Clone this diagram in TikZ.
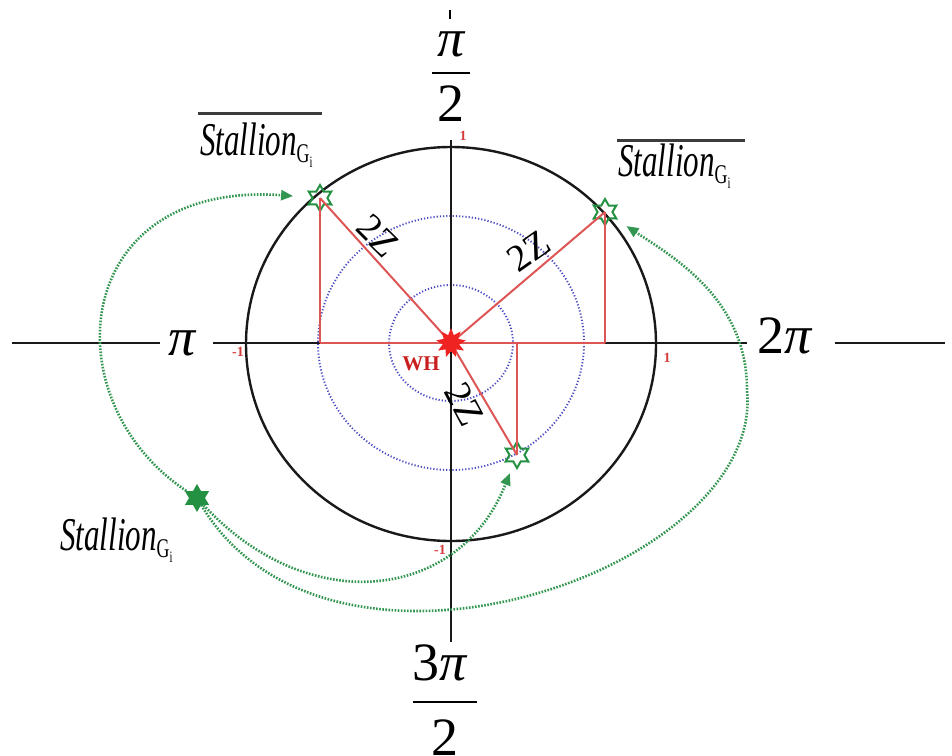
\documentclass[tikz,border=0pt]{standalone}
\usepackage{fontspec}
\setmainfont{Liberation Serif}
\usetikzlibrary{shapes.geometric,arrows.meta}
\definecolor{redl}{RGB}{222,85,85}
\definecolor{redstar}{RGB}{240,35,35}
\definecolor{grn}{RGB}{35,145,65}
\definecolor{grnd}{RGB}{50,150,80}
\definecolor{blu}{RGB}{75,75,195}
\definecolor{axc}{RGB}{25,25,25}
\definecolor{whc}{RGB}{200,30,30}
\definecolor{tickc}{RGB}{215,60,60}
\definecolor{barc}{RGB}{60,60,60}
\newcommand{\stal}{\scalebox{0.66}[1]{\fontsize{47}{47}\selectfont\itshape Stallion\upshape\raisebox{-7pt}{\fontsize{27}{27}\selectfont G\raisebox{-5pt}{\fontsize{16}{16}\selectfont i}}}}
\begin{document}
\begin{tikzpicture}[x=1pt,y=-1pt,
  axisline/.style={draw=axc,line width=2.4pt},
  redline/.style={draw=redl,line width=2pt},
  bdot/.style={draw=blu,line width=1.9pt,dash pattern=on 1.2pt off 2pt},
  garrow/.style={draw=grnd,line width=2.6pt,dash pattern=on 1.6pt off 1.5pt,-{Triangle[length=12pt,width=10pt]}},
  hexo/.style={star,star points=6,star point ratio=1.75,minimum size=26pt,inner sep=0pt,draw=grn,line width=2pt},
  hexf/.style={star,star points=6,star point ratio=1.75,minimum size=28pt,inner sep=0pt,fill=grn},
  rstar/.style={star,star points=9,star point ratio=1.8,minimum size=30pt,inner sep=0pt,fill=redstar},
  bigf/.style={font=\fontsize{54}{54}\selectfont,inner sep=0pt},
  zlab/.style={font=\fontsize{38}{38}\selectfont,inner sep=0pt},
  ticklab/.style={font=\fontsize{14}{14}\selectfont\bfseries,text=tickc,inner sep=0pt},
  stlab/.style={inner sep=0pt,anchor=base west}
]
\useasboundingbox (0,0) rectangle (952,755);

% dotted blue circles
\draw[bdot] (451,343) ellipse [x radius=62, y radius=58];
\draw[bdot] (451,343) ellipse [x radius=133, y radius=127];
% main circle
\draw[axisline] (451,344) ellipse [x radius=205, y radius=197];

% axis labels
\node[bigf] (piL) at (182,343) {\itshape π};
\node[bigf] (twopi) at (785,336) {2\itshape π};
\node[bigf] (pihalf) at (451,44) {\itshape π};
\node[bigf] (twoA) at (451,104) {2};
\node[bigf] (threepi) at (440,663) {3\itshape π};
\node[bigf] (twoB) at (445,738) {2};
\draw[line width=2.5pt] (432,73) -- (470,73);
\draw[line width=2.5pt] (413,702) -- (477,702);
\draw[line width=2pt] (450,10) -- (450,19);

% axes
\coordinate (axL) at (12,343);
\coordinate (axR) at (945,343);
\coordinate (axT) at (451,140);
\coordinate (axB) at (451,642);
\draw[axisline] (axL) -- (160,343);
\draw[axisline] (213,343) -- (747,343);
\draw[axisline] (835,343) -- (axR);
\draw[axisline] (axT) -- (axB);

% stars
\node[hexo] (sUL) at (320,198) {};
\node[hexo] (sUR) at (605,212) {};
\node[hexo] (sLo) at (517,455) {};
\node[hexf] (sL) at (197,498) {};

% red construction lines
\coordinate (ctr) at (451,343);
\draw[redline] (sUL.center |- ctr) -- (sUR.center |- ctr);
\draw[redline] (ctr) -- (sUL.center);
\draw[redline] (ctr) -- (sUR.center);
\draw[redline] (ctr) -- (sLo.center);
\draw[redline] (sUL.center) -- (sUL.center |- ctr);
\draw[redline] (sUR.center) -- (sUR.center |- ctr);
\draw[redline] (sLo.center) -- (sLo.center |- ctr);

\node[rstar] (wh) at (ctr) {};
\node[font=\fontsize{21}{21}\selectfont\bfseries,text=whc,inner sep=0pt] (whlab) at (421,364) {WH};

% 2Z labels
\node[zlab,rotate=-45] (z1) at (378,236) {2Z};
\node[zlab,rotate=35] (z2) at (529,251) {2Z};
\node[zlab,rotate=-62] (z3) at (465,404) {2Z};

% tick labels
\node[ticklab] (t1) at (463,136) {1};
\node[ticklab] (t2) at (238,352) {-1};
\node[ticklab] (t3) at (667,358) {1};
\node[ticklab] (t4) at (440,550) {-1};

% Stallion labels
\node[stlab] (stUL) at (200,155) {\stal};
\node[stlab] (stUR) at (618,176) {\stal};
\node[stlab] (stL) at (60,550) {\stal};
\draw[barc,line width=3pt] (198,113) -- (322,113);
\draw[barc,line width=3pt] (617,140) -- (745,140);

% green dotted arrows
\draw[garrow,shorten >=18pt] (sL) .. controls (50,400) and (70,180) .. (sUL);
\draw[garrow,shorten >=10pt] (sL) .. controls (310,620) and (460,600) .. (sLo);
\draw[garrow,shorten >=12pt] (sL) .. controls (330,720) and (765,570) .. (747,390)
   .. controls (747,300) and (675,258) .. (sUR);
\end{tikzpicture}
\end{document}
